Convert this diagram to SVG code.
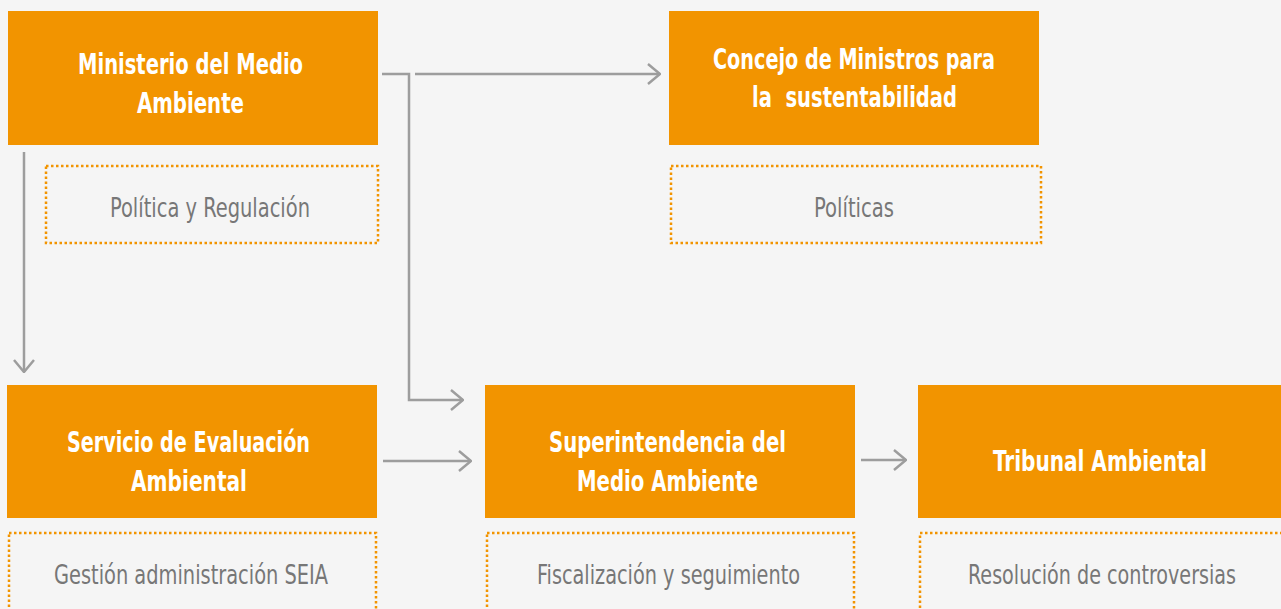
<svg xmlns="http://www.w3.org/2000/svg" width="1281" height="609" viewBox="0 0 1281 609">
<defs>
<style>
.box{fill:#f29400}
.sub{fill:none;stroke:#f29400;stroke-width:2.5;stroke-dasharray:2.5 2.5}
.t{font-family:"Liberation Sans Narrow","DejaVu Sans Condensed","Liberation Sans",sans-serif;font-stretch:condensed;font-weight:bold;font-size:29px;fill:#ffffff;text-anchor:middle;white-space:pre}
.s{font-family:"Liberation Sans Narrow","DejaVu Sans Condensed","Liberation Sans",sans-serif;font-stretch:condensed;font-size:27px;fill:#777777;text-anchor:middle}
.c{fill:none;stroke:#9d9d9d;stroke-width:2.5}
</style>
<marker id="ah" viewBox="0 0 14 22" refX="13" refY="11" markerWidth="14" markerHeight="22" markerUnits="userSpaceOnUse" orient="auto">
<path d="M1,1 L13,11 L1,21" fill="none" stroke="#9d9d9d" stroke-width="2.5"/>
</marker>
</defs>
<rect width="1281" height="609" fill="#f5f5f5"/>
<g id="connectors">
<path class="c" d="M24,152 V372" marker-end="url(#ah)"/>
<path class="c" d="M382,74 H409 V400 H463" marker-end="url(#ah)"/>
<path class="c" d="M415,74 H660" marker-end="url(#ah)"/>
<path class="c" d="M383,461 H471" marker-end="url(#ah)"/>
<path class="c" d="M861,460 H906" marker-end="url(#ah)"/>
</g>
<g id="ministerio">
<rect class="box" x="8" y="11" width="370" height="134"/>
<text class="t" x="190.5" y="74" textLength="225" lengthAdjust="spacingAndGlyphs">Ministerio del Medio</text>
<text class="t" x="190.5" y="113" textLength="107" lengthAdjust="spacingAndGlyphs">Ambiente</text>
</g>
<g id="ministerio-rol">
<rect class="sub" x="46" y="166" width="332" height="77"/>
<text class="s" x="210" y="217" textLength="200" lengthAdjust="spacingAndGlyphs">Política y Regulación</text>
</g>
<g id="concejo">
<rect class="box" x="669" y="11" width="370" height="134"/>
<text class="t" x="854" y="69" textLength="282" lengthAdjust="spacingAndGlyphs">Concejo de Ministros para</text>
<text class="t" x="854.5" y="107" textLength="205" lengthAdjust="spacingAndGlyphs">la  sustentabilidad</text>
</g>
<g id="concejo-rol">
<rect class="sub" x="671" y="166" width="370" height="77"/>
<text class="s" x="854" y="217" textLength="80" lengthAdjust="spacingAndGlyphs">Políticas</text>
</g>
<g id="sea">
<rect class="box" x="7" y="385" width="370" height="133"/>
<text class="t" x="188.5" y="452" textLength="243" lengthAdjust="spacingAndGlyphs">Servicio de Evaluación</text>
<text class="t" x="189" y="491" textLength="116" lengthAdjust="spacingAndGlyphs">Ambiental</text>
</g>
<g id="sea-rol">
<rect class="sub" x="9" y="533" width="367" height="80"/>
<text class="s" x="191" y="584" textLength="274" lengthAdjust="spacingAndGlyphs">Gestión administración SEIA</text>
</g>
<g id="sma">
<rect class="box" x="485" y="385" width="370" height="133"/>
<text class="t" x="667.5" y="452" textLength="237" lengthAdjust="spacingAndGlyphs">Superintendencia del</text>
<text class="t" x="667.5" y="491" textLength="181" lengthAdjust="spacingAndGlyphs">Medio Ambiente</text>
</g>
<g id="sma-rol">
<rect class="sub" x="487" y="533" width="367" height="80"/>
<text class="s" x="668.5" y="584" textLength="263" lengthAdjust="spacingAndGlyphs">Fiscalización y seguimiento</text>
</g>
<g id="tribunal">
<rect class="box" x="918" y="385" width="370" height="133"/>
<text class="t" x="1100" y="471" textLength="214" lengthAdjust="spacingAndGlyphs">Tribunal Ambiental</text>
</g>
<g id="tribunal-rol">
<rect class="sub" x="920" y="533" width="370" height="80"/>
<text class="s" x="1102" y="584" textLength="268" lengthAdjust="spacingAndGlyphs">Resolución de controversias</text>
</g>
</svg>
